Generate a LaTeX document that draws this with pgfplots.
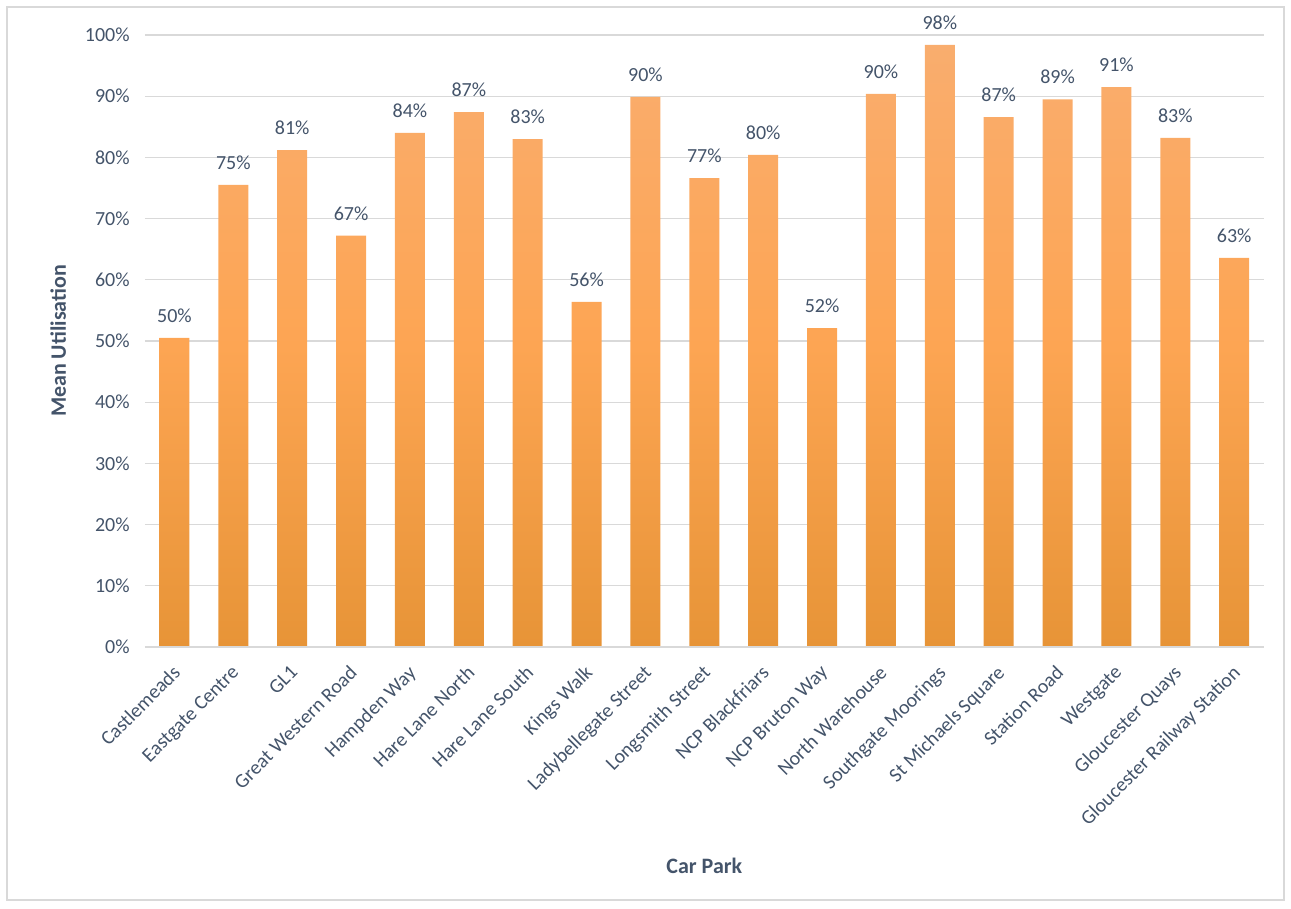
\documentclass[border=0pt]{standalone}
\usepackage{pgfplots}
\pgfplotsset{compat=1.18}
\usepackage{pgfplotstable}
\usepackage{fontspec}
\setmainfont{Carlito}
\definecolor{txt}{RGB}{68,84,106}
\definecolor{grid}{RGB}{217,217,217}
\definecolor{bartop}{RGB}{249,173,110}
\definecolor{barmid}{RGB}{253,165,83}
\definecolor{barbot}{RGB}{231,148,55}
\pgfplotstableread{
x y lab
0 50.5 50
1 75.5 75
2 81.2 81
3 67.2 67
4 84.0 84
5 87.4 87
6 83.0 83
7 56.4 56
8 89.9 90
9 76.6 77
10 80.4 80
11 52.1 52
12 90.4 90
13 98.4 98
14 86.6 87
15 89.5 89
16 91.5 91
17 83.2 83
18 63.6 63
}\datatable
\begin{document}
\begin{tikzpicture}
\begin{axis}[
  at={(0,0)}, anchor=south west,
  scale only axis,
  width=839pt, height=459pt,
  xmin=-0.5, xmax=18.5,
  ymin=0, ymax=100,
  ytick={0,10,...,100},
  yticklabel={\pgfmathprintnumber{\tick}\%},
  /pgf/number format/assume math mode=true,
  xtick=data,
  xticklabels={Castlemeads,Eastgate Centre,GL1,Great Western Road,Hampden Way,Hare Lane North,Hare Lane South,Kings Walk,Ladybellegate Street,Longsmith Street,NCP Blackfriars,NCP Bruton Way,North Warehouse,Southgate Moorings,St Michaels Square,Station Road,Westgate,Gloucester Quays,Gloucester Railway Station},
  xticklabel style={rotate=45, anchor=north east, inner sep=2pt, yshift=-5.5pt, xshift=-8.5pt},
  yticklabel style={xshift=-8pt},
  tick label style={font=\fontsize{15}{18}\selectfont, text=txt},
  major tick length=0pt,
  axis line style={draw=none},
  axis x line*=bottom,
  axis y line*=left,
  ymajorgrids,
  grid style={draw=grid, line width=1pt},
  xlabel={Car Park},
  ylabel={Mean Utilisation},
  every axis x label/.style={at={(rel axis cs:0.5,0)}, anchor=center, yshift=-164pt, font=\bfseries\fontsize{16.5}{20}\selectfont, text=txt},
  every axis y label/.style={at={([xshift=-65pt]rel axis cs:0,0.5)}, anchor=center, rotate=90, font=\bfseries\fontsize{16.5}{20}\selectfont, text=txt},
  clip=false,
]
\addplot[ybar, bar width=22.5pt, draw=none,
  top color=bartop, bottom color=barbot, middle color=barmid,
  nodes near coords={\pgfplotspointmeta\%},
  point meta=explicit symbolic,
  every node near coord/.style={font=\fontsize{15}{18}\selectfont, text=txt, anchor=south, yshift=8pt, fill=none, shade=none, draw=none},
] table[x=x, y=y, meta=lab] {\datatable};
\draw[grid, line width=1.2pt] (rel axis cs:0,0) -- (rel axis cs:1,0);
\end{axis}
\draw[grid, line width=0.8pt] (-103.5pt,-189.75pt) rectangle (854.25pt,480pt);
\useasboundingbox (-108.75pt,-195.75pt) rectangle (859.5pt,485.25pt);
\end{tikzpicture}
\end{document}
